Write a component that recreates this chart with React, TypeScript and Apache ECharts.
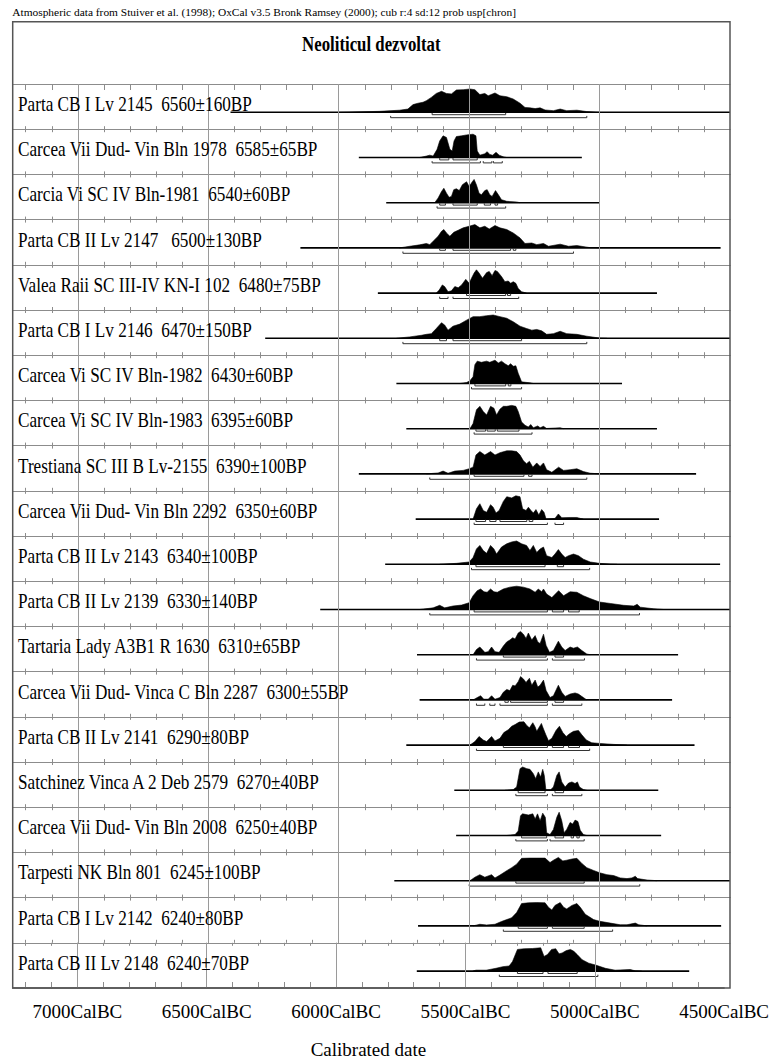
import React, { useEffect, useRef } from "react";
import * as echarts from "echarts";

const HEADER =
  "Atmospheric data from Stuiver et al. (1998); OxCal v3.5 Bronk Ramsey (2000); cub r:4 sd:12 prob usp[chron]";
const TITLE = "Neoliticul dezvoltat";
const AXIS_NAME = "Calibrated date";

const LABELS = [
  "Parta CB I Lv 2145  6560±160BP",
  "Carcea Vii Dud- Vin Bln 1978  6585±65BP",
  "Carcia Vi SC IV Bln-1981  6540±60BP",
  "Parta CB II Lv 2147   6500±130BP",
  "Valea Raii SC III-IV KN-I 102  6480±75BP",
  "Parta CB I Lv 2146  6470±150BP",
  "Carcea Vi SC IV Bln-1982  6430±60BP",
  "Carcea Vi SC IV Bln-1983  6395±60BP",
  "Trestiana SC III B Lv-2155  6390±100BP",
  "Carcea Vii Dud- Vin Bln 2292  6350±60BP",
  "Parta CB II Lv 2143  6340±100BP",
  "Parta CB II Lv 2139  6330±140BP",
  "Tartaria Lady A3B1 R 1630  6310±65BP",
  "Carcea Vii Dud- Vinca C Bln 2287  6300±55BP",
  "Parta CB II Lv 2141  6290±80BP",
  "Satchinez Vinca A 2 Deb 2579  6270±40BP",
  "Carcea Vii Dud- Vin Bln 2008  6250±40BP",
  "Tarpesti NK Bln 801  6245±100BP",
  "Parta CB I Lv 2142  6240±80BP",
  "Parta CB II Lv 2148  6240±70BP",
];

// calibration range drawn as the baseline (years cal BC)
const BASE_START = [6415, 5923, 5818, 6147, 5850, 6282, 5779, 5741, 5923, 5705, 5822, 6071, 5700, 5690, 5741, 5557, 5550, 5787, 5696, 5688];
const BASE_END = [4500, 5068, 5000, 4536, 4780, 4500, 4914, 4780, 4630, 4772, 4538, 4500, 4699, 4722, 4636, 4775, 4764, 4500, 4534, 4635];

// probability distributions: [year cal BC, relative probability]
const D0 = [[6001,0],[5844,0.04],[5767,0.09],[5735,0.14],[5715,0.33],[5696,0.39],[5677,0.43],[5664,0.5],[5645,0.64],[5626,0.81],[5606,0.9],[5587,0.81],[5568,0.79],[5549,0.96],[5523,0.97],[5497,1],[5478,0.97],[5459,0.76],[5440,0.81],[5427,0.71],[5401,0.83],[5382,0.71],[5356,0.67],[5331,0.57],[5305,0.39],[5286,0.21],[5267,0.19],[5247,0.16],[5228,0.19],[5209,0.1],[5177,0.07],[5151,0.14],[5126,0.07],[5087,0.09],[5049,0.03],[5000,0]];
const D1 = [[5690,0],[5664,0.06],[5651,0.1],[5638,0.06],[5623,0.35],[5613,0.71],[5600,0.93],[5587,0.86],[5574,0.35],[5565,0.28],[5558,0.71],[5549,0.9],[5529,0.93],[5510,0.97],[5485,1],[5474,0.93],[5469,0.28],[5459,0.1],[5440,0.16],[5431,0.25],[5421,0.13],[5410,0.1],[5397,0.22],[5385,0.1],[5369,0.03],[5356,0]];
const D2 = [[5632,0],[5619,0.2],[5606,0.48],[5597,0.62],[5587,0.41],[5577,0.23],[5568,0.27],[5559,0.56],[5549,0.6],[5538,0.52],[5526,0.77],[5510,0.9],[5500,0.69],[5488,0.9],[5481,1],[5472,0.76],[5462,0.41],[5453,0.34],[5440,0.52],[5431,0.56],[5421,0.34],[5412,0.27],[5399,0.52],[5388,0.34],[5376,0.13],[5356,0.06],[5318,0.03],[5305,0]];
const D3 = [[5767,0],[5728,0.07],[5690,0.13],[5664,0.19],[5651,0.14],[5638,0.29],[5619,0.5],[5606,0.71],[5597,0.79],[5587,0.64],[5574,0.5],[5559,0.67],[5542,0.76],[5523,0.86],[5500,0.93],[5478,1],[5459,0.86],[5440,0.93],[5423,0.81],[5401,0.96],[5382,0.86],[5356,0.79],[5331,0.64],[5305,0.43],[5286,0.19],[5260,0.21],[5241,0.14],[5215,0.19],[5196,0.07],[5151,0.16],[5119,0.07],[5087,0.1],[5036,0.01],[5000,0]];
const D4 = [[5626,0],[5615,0.13],[5603,0.35],[5594,0.28],[5581,0.06],[5568,0.1],[5555,0.28],[5542,0.23],[5529,0.35],[5513,0.59],[5500,0.42],[5491,0.64],[5481,0.86],[5472,1],[5462,0.86],[5449,0.64],[5433,0.88],[5423,0.93],[5412,0.75],[5401,0.97],[5392,0.93],[5376,0.71],[5363,0.49],[5350,0.52],[5341,0.42],[5331,0.49],[5321,0.42],[5312,0.2],[5299,0.06],[5280,0]];
const D5 = [[5779,0],[5728,0.06],[5683,0.13],[5664,0.17],[5645,0.2],[5626,0.42],[5606,0.67],[5594,0.57],[5581,0.35],[5562,0.52],[5536,0.61],[5510,0.78],[5485,0.93],[5459,0.93],[5433,0.97],[5408,1],[5382,0.93],[5356,0.86],[5331,0.71],[5305,0.52],[5280,0.42],[5260,0.35],[5241,0.38],[5222,0.32],[5203,0.17],[5177,0.2],[5151,0.3],[5126,0.2],[5087,0.17],[5049,0.09],[5000,0.01],[4972,0]];
const D6 = [[5536,0],[5510,0.04],[5497,0.12],[5485,0.29],[5478,0.81],[5469,0.96],[5453,0.91],[5433,0.96],[5421,0.91],[5401,1],[5388,0.88],[5376,0.96],[5363,0.85],[5350,0.76],[5341,0.85],[5331,0.74],[5321,0.76],[5312,0.44],[5299,0.07],[5267,0.03],[5254,0]];
const D7 = [[5497,0],[5485,0.22],[5472,0.81],[5459,0.96],[5446,0.74],[5433,0.59],[5418,0.96],[5405,0.88],[5395,0.59],[5382,0.84],[5369,0.96],[5356,0.96],[5337,1],[5321,0.96],[5312,0.74],[5299,0.29],[5286,0.15],[5273,0.07],[5264,0.18],[5254,0.04],[5237,0.12],[5228,0.04],[5215,0.1],[5203,0.01],[5151,0.04],[5138,0]];
const D8 = [[5664,0],[5619,0.04],[5600,0.12],[5581,0.03],[5555,0.12],[5523,0.15],[5500,0.22],[5485,0.29],[5474,0.81],[5459,0.96],[5440,0.81],[5418,0.96],[5401,0.81],[5382,0.91],[5356,0.99],[5337,0.99],[5318,0.96],[5305,0.81],[5292,0.56],[5280,0.44],[5269,0.54],[5256,0.29],[5241,0.47],[5228,0.32],[5215,0.47],[5203,0.18],[5183,0.07],[5157,0.29],[5138,0.15],[5113,0.18],[5087,0.22],[5062,0.1],[5036,0.03],[5000,0]];
const D9 = [[5485,0],[5472,0.44],[5459,0.66],[5446,0.37],[5433,0.29],[5418,0.62],[5408,0.51],[5397,0.26],[5385,0.37],[5369,0.76],[5356,0.96],[5337,0.91],[5321,1],[5305,0.96],[5295,0.44],[5282,0.37],[5273,0.51],[5263,0.37],[5254,0.26],[5244,0.41],[5233,0.18],[5222,0.41],[5213,0.29],[5205,0],[5171,0.03],[5158,0.22],[5145,0.06],[5113,0.07],[5087,0.07],[5074,0.03],[5062,0]];
const D10 = [[5613,0],[5549,0.04],[5500,0.1],[5485,0.29],[5472,0.66],[5459,0.81],[5446,0.59],[5433,0.47],[5418,0.81],[5405,0.66],[5395,0.44],[5376,0.74],[5356,0.88],[5337,0.96],[5318,1],[5299,0.88],[5280,0.81],[5267,0.59],[5254,0.81],[5241,0.51],[5228,0.66],[5215,0.74],[5203,0.37],[5183,0.29],[5171,0.44],[5158,0.63],[5145,0.44],[5132,0.29],[5119,0.37],[5100,0.44],[5081,0.37],[5062,0.22],[5036,0.1],[5000,0.04],[4959,0.01],[4933,0]];
const D11 = [[5690,0],[5638,0.07],[5613,0.18],[5594,0.07],[5562,0.15],[5529,0.19],[5500,0.29],[5485,0.59],[5469,0.81],[5456,0.88],[5443,0.76],[5431,0.74],[5418,0.88],[5405,0.76],[5392,0.74],[5369,0.88],[5344,0.96],[5318,1],[5292,0.96],[5267,0.88],[5247,0.74],[5235,0.88],[5222,0.76],[5215,0.88],[5203,0.66],[5183,0.51],[5157,0.81],[5138,0.59],[5113,0.76],[5087,0.74],[5062,0.59],[5036,0.47],[5000,0.32],[4959,0.26],[4908,0.18],[4869,0.15],[4856,0.22],[4844,0.1],[4792,0.03],[4754,0]];
const D12 = [[5485,0],[5472,0.22],[5459,0.33],[5440,0.1],[5427,0.13],[5414,0.33],[5401,0.13],[5385,0.1],[5369,0.37],[5356,0.55],[5344,0.63],[5333,0.73],[5324,0.67],[5312,0.93],[5303,1],[5292,0.88],[5282,0.7],[5273,0.93],[5260,0.63],[5247,0.82],[5237,0.55],[5228,0.48],[5215,0.88],[5205,0.4],[5192,0.1],[5177,0.18],[5158,0.58],[5145,0.33],[5132,0.18],[5113,0.33],[5100,0.28],[5085,0.33],[5068,0.18],[5049,0.03],[5036,0]];
const D13 = [[5485,0],[5469,0.1],[5456,0.18],[5444,0.03],[5427,0.03],[5414,0.18],[5401,0.03],[5382,0.1],[5369,0.33],[5356,0.45],[5344,0.4],[5333,0.63],[5324,0.6],[5312,0.78],[5303,1],[5292,0.9],[5282,0.75],[5269,0.93],[5260,0.63],[5247,0.85],[5237,0.55],[5228,0.63],[5215,0.85],[5205,0.4],[5190,0.1],[5177,0.18],[5158,0.63],[5145,0.33],[5132,0.15],[5113,0.25],[5094,0.3],[5081,0.25],[5062,0.1],[5049,0]];
const D14 = [[5497,0],[5478,0.15],[5462,0.37],[5446,0.22],[5433,0.15],[5414,0.37],[5401,0.18],[5382,0.29],[5367,0.54],[5350,0.66],[5337,0.81],[5324,0.88],[5308,0.99],[5290,1],[5279,0.84],[5269,0.74],[5256,0.96],[5247,0.78],[5241,0.59],[5231,0.78],[5223,0.93],[5215,0.69],[5206,0.44],[5196,0.19],[5183,0.29],[5167,0.63],[5154,0.81],[5141,0.54],[5128,0.37],[5115,0.49],[5100,0.59],[5081,0.63],[5068,0.44],[5051,0.22],[5030,0.1],[4997,0.07],[4946,0.03],[4895,0]];
const D15 = [[5363,0],[5331,0.03],[5318,0.14],[5305,0.93],[5295,1],[5279,0.93],[5267,0.9],[5254,0.71],[5245,0.5],[5235,0.79],[5226,0.57],[5218,0.9],[5212,0.64],[5206,0.03],[5187,0.03],[5177,0.14],[5164,0.64],[5155,0.79],[5145,0.36],[5132,0.14],[5119,0.31],[5106,0.36],[5094,0.29],[5085,0.36],[5077,0.14],[5062,0.03],[5049,0]];
const D16 = [[5356,0],[5324,0.04],[5312,0.19],[5303,0.85],[5295,0.93],[5273,0.88],[5256,0.93],[5247,0.71],[5238,0.93],[5228,0.63],[5218,0.96],[5208,0.78],[5203,0.12],[5190,0.04],[5177,0.26],[5164,0.78],[5155,1],[5145,0.63],[5136,0.12],[5126,0.26],[5113,0.56],[5103,0.49],[5094,0.66],[5083,0.6],[5074,0.22],[5062,0.04],[5049,0]];
const D17 = [[5497,0],[5478,0.15],[5459,0.26],[5440,0.15],[5414,0.26],[5401,0.12],[5382,0.24],[5359,0.41],[5337,0.56],[5318,0.71],[5299,0.96],[5267,0.97],[5241,0.97],[5209,0.97],[5190,0.78],[5177,0.88],[5158,1],[5141,0.85],[5126,0.88],[5106,0.93],[5087,0.96],[5068,0.74],[5049,0.56],[5023,0.44],[5000,0.34],[4972,0.26],[4946,0.22],[4921,0.12],[4895,0.09],[4876,0.12],[4863,0.19],[4854,0.09],[4818,0.03],[4780,0]];
const D18 = [[5485,0],[5459,0.07],[5433,0.04],[5401,0.07],[5376,0.19],[5356,0.27],[5337,0.35],[5318,0.57],[5299,0.96],[5273,0.99],[5241,1],[5209,0.99],[5196,0.8],[5183,0.68],[5171,0.88],[5151,1],[5138,0.8],[5126,0.73],[5106,0.88],[5087,0.96],[5074,0.8],[5055,0.5],[5023,0.27],[5000,0.2],[4959,0.12],[4921,0.05],[4895,0.05],[4863,0.12],[4850,0.05],[4818,0]];
const D19 = [[5472,0],[5459,0.04],[5420,0.04],[5382,0.12],[5356,0.19],[5331,0.22],[5318,0.41],[5299,0.93],[5273,0.96],[5241,0.97],[5209,1],[5196,0.63],[5183,0.71],[5167,0.93],[5151,0.96],[5138,0.74],[5126,0.78],[5110,0.88],[5094,0.93],[5081,0.85],[5068,0.71],[5049,0.49],[5023,0.34],[4997,0.26],[4959,0.12],[4921,0.04],[4863,0.07],[4844,0.01],[4818,0]];
const DENSITIES = [D0, D1, D2, D3, D4, D5, D6, D7, D8, D9, D10, D11, D12, D13, D14, D15, D16, D17, D18, D19];

// 68.2% ranges [from BC, to BC]
const R68 = [
  [[5642, 5360]],
  [[5613, 5578], [5562, 5469]],
  [[5613, 5591], [5562, 5469], [5442, 5418], [5401, 5391]],
  [[5613, 5591], [5562, 5341], [5331, 5321]],
  [[5510, 5360], [5353, 5341]],
  [[5613, 5587], [5562, 5299]],
  [[5478, 5360], [5350, 5340]],
  [[5474, 5437], [5431, 5400], [5392, 5309]],
  [[5481, 5290], [5272, 5259]],
  [[5474, 5437], [5421, 5397], [5382, 5279], [5270, 5256]],
  [[5474, 5209], [5162, 5138]],
  [[5481, 5200], [5181, 5138], [5119, 5078]],
  [[5369, 5205], [5171, 5138]],
  [[5363, 5350], [5341, 5200], [5171, 5138]],
  [[5369, 5200], [5181, 5138], [5119, 5077]],
  [[5312, 5209], [5171, 5138]],
  [[5299, 5203], [5171, 5138], [5109, 5100], [5087, 5078]],
  [[5321, 5059]],
  [[5312, 5200], [5181, 5059]],
  [[5299, 5200], [5181, 5068]],
];
// 95.4% ranges [from BC, to BC]
const R95 = [
  [[5801, 5049]],
  [[5642, 5457], [5446, 5413], [5407, 5373]],
  [[5623, 5360]],
  [[5754, 5100]],
  [[5613, 5581], [5562, 5310]],
  [[5754, 5049]],
  [[5491, 5299]],
  [[5481, 5259]],
  [[5651, 5049]],
  [[5481, 5200], [5171, 5138]],
  [[5491, 5038]],
  [[5651, 4847]],
  [[5472, 5200], [5181, 5058]],
  [[5472, 5440], [5421, 5401], [5382, 5200], [5181, 5068]],
  [[5472, 5038]],
  [[5321, 5200], [5181, 5068]],
  [[5321, 5200], [5190, 5059]],
  [[5500, 4846]],
  [[5369, 4950]],
  [[5369, 4988]],
];

const TICK_YEARS = [7200, 7100, 7000, 6900, 6800, 6700, 6600, 6500, 6400, 6300, 6200, 6100, 6000, 5900, 5800, 5700, 5600, 5500, 5400, 5300, 5200, 5100, 5000, 4900, 4800, 4700, 4600];
const GRID_YEARS = [7000, 6500, 6000, 5500, 5000];
const LABEL_YEARS = [7000, 6500, 6000, 5500, 5000, 4500];
const X_FROM_BC = 7250;
const X_TO_BC = 4500;

// layout
const FONT = "Liberation Serif";
const W = 772;
const H = 1062;
const FRAME_L = 12.7;
const FRAME_R = 730;
const FRAME_T = 21.7;
const ROW0 = 84;
const ROW_H = 45.2;
const BASE_OFF = 28.3;
const PEAK_H = 23.3;
const LABEL_SCALE = 0.86;

function buildOption() {
  const n = LABELS.length;
  const grid: any[] = [];
  const xAxis: any[] = [];
  const yAxis: any[] = [];
  const series: any[] = [];
  const graphic: any[] = [];
  const yMin = -(ROW_H - BASE_OFF) / PEAK_H;
  const yMax = BASE_OFF / PEAK_H;
  const ticks = TICK_YEARS.map((y) => -y);

  for (let i = 0; i < n; i++) {
    const top = ROW0 + i * ROW_H;
    const last = i === n - 1;
    grid.push({ left: FRAME_L, top, width: FRAME_R - FRAME_L, height: ROW_H });
    xAxis.push({
      gridIndex: i,
      type: "value",
      position: "bottom",
      min: -X_FROM_BC,
      max: -X_TO_BC,
      axisLine: { show: true, onZero: false, lineStyle: { color: last ? "#555" : "#8c8c8c", width: last ? 1.5 : 1 } },
      axisTick: { show: true, inside: true, length: last ? 6 : 3, customValues: ticks, lineStyle: { color: "#8c8c8c" } },
      axisLabel: {
        show: last,
        customValues: LABEL_YEARS.map((y) => -y),
        formatter: (v: number) => `${-v}CalBC`,
        fontFamily: FONT,
        fontSize: 19,
        color: "#000",
        margin: 14,
      },
      splitLine: { show: false },
      name: last ? AXIS_NAME : "",
      nameLocation: "middle",
      nameGap: 52,
      nameTextStyle: { fontFamily: FONT, fontSize: 19, color: "#000" },
    });
    xAxis.push({
      gridIndex: i,
      type: "value",
      position: "top",
      min: -X_FROM_BC,
      max: -X_TO_BC,
      axisLine: { show: true, onZero: false, lineStyle: { color: "#8c8c8c", width: 1 } },
      axisTick: { show: true, inside: true, length: i === 0 ? 6 : 3, customValues: ticks, lineStyle: { color: "#8c8c8c" } },
      axisLabel: { show: false },
      splitLine: { show: false },
    });
    yAxis.push({ gridIndex: i, type: "value", min: yMin, max: yMax, show: false });

    const xi = 2 * i;
    series.push({
      type: "line",
      xAxisIndex: xi,
      yAxisIndex: i,
      data: [[-BASE_START[i], 0], [-BASE_END[i], 0]],
      symbol: "none",
      lineStyle: { color: "#000", width: 1.6 },
      silent: true,
      z: 2,
    });
    series.push({
      type: "line",
      xAxisIndex: xi,
      yAxisIndex: i,
      data: DENSITIES[i].map(([bc, p]) => [-bc, p]),
      symbol: "none",
      lineStyle: { color: "#000", width: 0.6 },
      areaStyle: { color: "#000", opacity: 1 },
      silent: true,
      z: 3,
      markLine: {
        silent: true,
        symbol: ["none", "none"],
        label: { show: false },
        lineStyle: { color: "#9a9a9a", width: 1, type: "solid" },
        data: GRID_YEARS.map((y) => ({ xAxis: -y })),
      },
    });
    series.push({
      type: "custom",
      xAxisIndex: xi,
      yAxisIndex: i,
      coordinateSystem: "cartesian2d",
      silent: true,
      z: 4,
      encode: { x: [0, 1], y: 2 },
      data: [
        ...R68[i].map(([a, b]) => [-a, -b, 0]),
        ...R95[i].map(([a, b]) => [-a, -b, 1]),
      ],
      renderItem: (params: any, api: any) => {
        const a = api.coord([api.value(0), 0]);
        const b = api.coord([api.value(1), 0]);
        const y = a[1] + (api.value(2) === 0 ? 2.4 : 5.4);
        return {
          type: "polyline",
          shape: { points: [[a[0], y - 1.8], [a[0], y], [b[0], y], [b[0], y - 1.8]] },
          style: { stroke: "#333", fill: null, lineWidth: 1 },
        };
      },
    });

    graphic.push({
      type: "text",
      x: 18,
      y: top + 20,
      scaleX: LABEL_SCALE,
      silent: true,
      z: 10,
      style: {
        text: LABELS[i],
        fill: "#000",
        fontFamily: FONT,
        fontSize: 20,
        align: "left",
        textAlign: "left",
        verticalAlign: "middle",
        textVerticalAlign: "middle",
      },
    });
  }

  graphic.push({
    type: "text",
    x: 12.3,
    y: 12,
    silent: true,
    style: {
      text: HEADER,
      fill: "#000",
      fontFamily: FONT,
      fontSize: 11.4,
      align: "left",
      textAlign: "left",
      verticalAlign: "middle",
      textVerticalAlign: "middle",
    },
  });
  graphic.push({
    type: "text",
    x: (FRAME_L + FRAME_R) / 2,
    y: 44,
    scaleX: 0.8,
    silent: true,
    style: {
      text: TITLE,
      fill: "#000",
      fontFamily: FONT,
      fontSize: 21,
      fontWeight: "bold",
      align: "center",
      textAlign: "center",
      verticalAlign: "middle",
      textVerticalAlign: "middle",
    },
  });
  graphic.push({
    type: "rect",
    silent: true,
    z: 20,
    shape: { x: FRAME_L, y: FRAME_T, width: FRAME_R - FRAME_L, height: ROW0 + n * ROW_H - FRAME_T },
    style: { fill: "none", stroke: "#555", lineWidth: 1.5 },
  });

  return {
    animation: false,
    backgroundColor: "#fff",
    grid,
    xAxis,
    yAxis,
    series,
    graphic,
  };
}

export default function App() {
  const ref = useRef<HTMLDivElement>(null);
  useEffect(() => {
    if (!ref.current) return;
    const chart = echarts.init(ref.current, null, { renderer: "svg", width: W, height: H });
    chart.setOption(buildOption() as any);
    return () => chart.dispose();
  }, []);
  return (
    <div
      ref={ref}
      style={{ position: "absolute", left: 0, top: 0, width: W, height: H, background: "#fff" }}
    />
  );
}
